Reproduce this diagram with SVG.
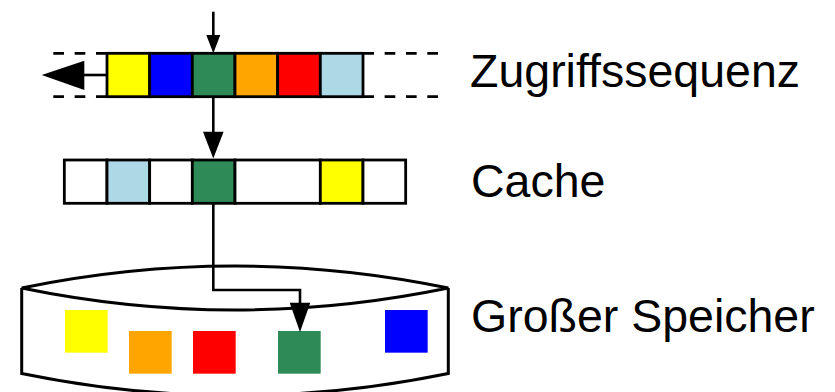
<svg xmlns="http://www.w3.org/2000/svg" width="835" height="392" viewBox="0 0 835 392">
  <style>
    .cell { stroke: #000; stroke-width: 2.8; }
    .frame { fill: none; stroke: #000; stroke-width: 3; }
    .dash { fill: none; stroke: #000; stroke-width: 2.8; stroke-dasharray: 10.67 10.67; }
    .wire { fill: none; stroke: #000; stroke-width: 2.6; }
    .head { fill: #000; stroke: none; }
    .label { font-family: "Liberation Sans", Arial, sans-serif; font-size: 46.5px; fill: #000; }
    .y { fill: #ffff00; } .b { fill: #0000ff; } .g { fill: #2e8b57; }
    .o { fill: #ffa500; } .r { fill: #ff0000; } .lb { fill: #add8e6; } .w { fill: #fff; }
  </style>

  <!-- access sequence: a sliding row with dashed continuation -->
  <g id="sequence">
    <path class="dash" d="M53.3 53.3 H107 M53.3 96.7 H107"/>
    <path class="dash" d="M363.3 53.3 H438 M363.3 96.7 H438"/>
    <rect class="cell y" x="107" y="53.3" width="42.67" height="43.4"/>
    <rect class="cell b" x="149.67" y="53.3" width="42.67" height="43.4"/>
    <rect class="cell g" x="192.33" y="53.3" width="42.67" height="43.4"/>
    <rect class="cell o" x="235" y="53.3" width="42.67" height="43.4"/>
    <rect class="cell r" x="277.67" y="53.3" width="42.67" height="43.4"/>
    <rect class="cell lb" x="320.33" y="53.3" width="42.67" height="43.4"/>
    <text class="label" x="470" y="86.7">Zugriffssequenz</text>
  </g>

  <!-- cache row -->
  <g id="cache">
    <rect class="cell w" x="64.33" y="160" width="42.67" height="43.3"/>
    <rect class="cell lb" x="107" y="160" width="42.67" height="43.3"/>
    <rect class="cell w" x="149.67" y="160" width="42.67" height="43.3"/>
    <rect class="cell g" x="192.33" y="160" width="42.67" height="43.3"/>
    <rect class="cell w" x="235" y="160" width="85.33" height="43.3"/>
    <rect class="cell y" x="320.33" y="160" width="42.67" height="43.3"/>
    <rect class="cell w" x="363" y="160" width="42.67" height="43.3"/>
    <text class="label" x="471" y="196.7">Cache</text>
  </g>

  <!-- large storage drawn as a drum -->
  <g id="storage">
    <path class="frame" d="M21.7 288 Q235 244 448.3 288 Q235 332 21.7 288 Z"/>
    <path class="frame" d="M21.7 288 V373.5 Q235 417.5 448.3 373.5 V288"/>
    <rect class="y" x="65" y="310" width="42.67" height="42.67"/>
    <rect class="o" x="129" y="331" width="42.67" height="42.67"/>
    <rect class="r" x="193" y="331" width="42.67" height="42.67"/>
    <rect class="g" x="278" y="331" width="42.67" height="42.67"/>
    <rect class="b" x="385" y="310" width="42.67" height="42.67"/>
    <text class="label" x="471" y="331.7">Großer Speicher</text>
  </g>

  <!-- connectors -->
  <g id="connectors">
    <line class="wire" x1="213.3" y1="11.7" x2="213.3" y2="37"/>
    <polygon class="head" points="206.3,35 220.3,35 213.3,53.3"/>

    <line class="wire" x1="107" y1="75" x2="83" y2="75"/>
    <polygon class="head" points="84.3,60.7 84.3,90 41.7,75"/>

    <line class="wire" x1="213.3" y1="96.7" x2="213.3" y2="133"/>
    <polygon class="head" points="203,131.7 223.6,131.7 213.3,158.6"/>

    <path class="wire" d="M213.3 203.3 V290 H300 V304"/>
    <polygon class="head" points="289.7,302.7 310.3,302.7 300,332"/>
  </g>
</svg>
